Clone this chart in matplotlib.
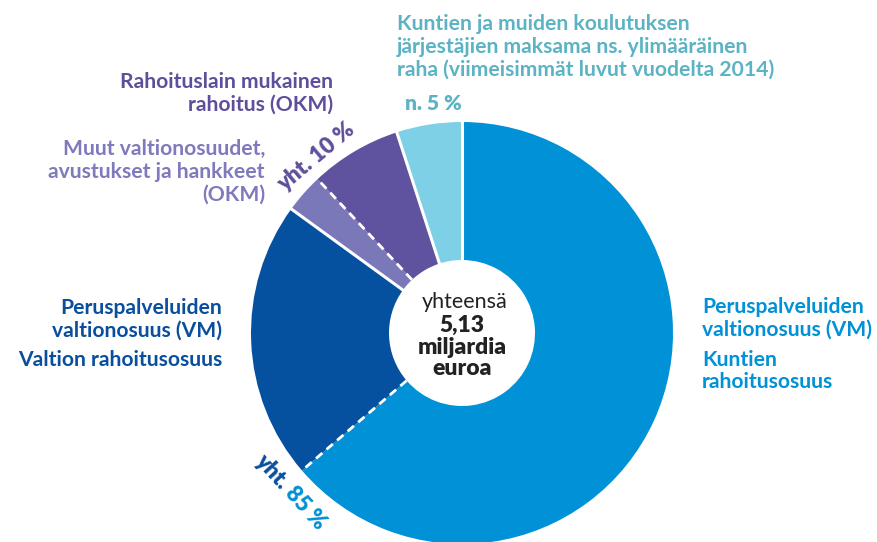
import matplotlib.pyplot as plt
import numpy as np

plt.rcParams['font.family'] = ['Lato', 'DejaVu Sans']

# osuudet (%), myötäpäivään ylhäältä
osuudet = [63.7, 21.3, 3.0, 7.0, 5.0]
nimet = ['Kuntien rahoitusosuus', 'Valtion rahoitusosuus',
         'Muut valtionosuudet', 'Rahoituslain mukainen rahoitus', 'Ylimääräinen raha']
varit = ['#0091d6', '#0650a0', '#7b78ba', '#5f529e', '#7dd0e6']
# rajaviivat: True = katkoviiva
katko = [False, True, False, True, False]

W, H = 878, 542
cx, cy = 462, H - 333
r_out, r_in = 211, 73

fig = plt.figure(figsize=(W / 100, H / 100), dpi=100)
ax = fig.add_axes([0, 0, 1, 1])

ax.pie(osuudet, colors=varit, startangle=90, counterclock=False,
       center=(cx, cy), radius=r_out,
       wedgeprops=dict(width=r_out - r_in, linewidth=0))

# valkoiset rajaviivat
kum = np.concatenate([[0], np.cumsum(osuudet)[:-1]])
for k, d in zip(kum, katko):
    a = np.deg2rad(90 - k * 3.6)
    xs = [cx + r_in * np.cos(a), cx + r_out * np.cos(a)]
    ys = [cy + r_in * np.sin(a), cy + r_out * np.sin(a)]
    if d:
        ax.plot(xs, ys, color='white', lw=2, ls=(0, (3, 2)))
    else:
        ax.plot(xs, ys, color='white', lw=2.2)

ax.set_xlim(0, W)
ax.set_ylim(0, H)
ax.set_aspect('equal')
ax.axis('off')

def Y(y):
    return H - y

fs = 15.2
c_cyan = '#5bb3c4'
c_purple = '#5f4f9a'
c_lpurple = '#7f79bd'
c_dblue = '#0a4f9e'
c_lblue = '#0091d6'

ax.text(397, Y(47), 'Kuntien ja muiden koulutuksen\njärjestäjien maksama ns. ylimääräinen\nraha (viimeisimmät luvut vuodelta 2014)',
        color=c_cyan, fontsize=fs, fontweight='bold', ha='left', va='center', linespacing=1.18)
ax.text(405, Y(103), 'n. 5 %', color=c_cyan, fontsize=fs, fontweight='heavy', ha='left', va='center')

ax.text(333, Y(93), 'Rahoituslain mukainen\nrahoitus (OKM)', color=c_purple, fontsize=fs,
        fontweight='bold', ha='right', va='center', linespacing=1.18)
ax.text(265, Y(172), 'Muut valtionosuudet,\navustukset ja hankkeet\n(OKM)', color=c_lpurple, fontsize=fs,
        fontweight='bold', ha='right', va='center', linespacing=1.18)
ax.text(316, Y(157), 'yht. 10 %', color=c_purple, fontsize=16, fontweight='heavy',
        ha='center', va='center', rotation=40)

ax.text(222, Y(319), 'Peruspalveluiden\nvaltionosuus (VM)', color=c_dblue, fontsize=fs,
        fontweight='bold', ha='right', va='center', linespacing=1.18)
ax.text(222, Y(360), 'Valtion rahoitusosuus', color=c_dblue, fontsize=fs,
        fontweight='bold', ha='right', va='center')

ax.text(702, Y(318), 'Peruspalveluiden\nvaltionosuus (VM)', color=c_lblue, fontsize=fs,
        fontweight='bold', ha='left', va='center', linespacing=1.18)
ax.text(702, Y(371), 'Kuntien\nrahoitusosuus', color=c_lblue, fontsize=fs,
        fontweight='bold', ha='left', va='center', linespacing=1.18)

ax.text(272, Y(471), 'yht.', color=c_dblue, fontsize=16, fontweight='heavy',
        ha='center', va='center', rotation=-48)
ax.text(305, Y(508), '85 %', color=c_lblue, fontsize=16, fontweight='heavy',
        ha='center', va='center', rotation=-48)

ax.text(cx + 3, Y(302), 'yhteensä', color='#222222', fontsize=15.5, ha='center', va='center')
ax.text(cx, Y(347), '5,13\nmiljardia\neuroa', color='#222222', fontsize=16.5, fontweight='heavy',
        ha='center', va='center', linespacing=1.05)

fig.savefig('out.png', dpi=100)
